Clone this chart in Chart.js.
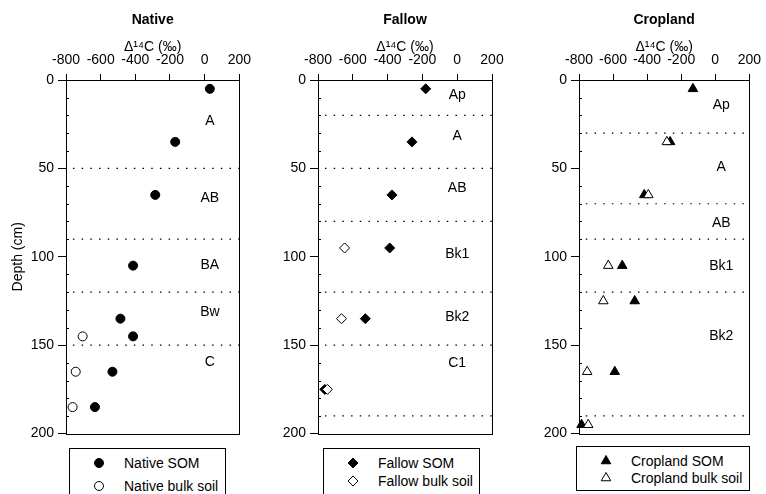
<!DOCTYPE html>
<html>
<head>
<meta charset="utf-8">
<script src="https://cdn.jsdelivr.net/npm/chart.js@4.4.1/dist/chart.umd.min.js"></script>
<style>
  body { margin: 0; width: 766px; height: 494px; overflow: hidden; background: #fff; position: relative;
         font-family: "Liberation Sans", Arial, sans-serif; font-size: 14px; color: #000; }
  canvas.panel { position: absolute; top: 0; }
  .legend { position: absolute; border: 1px solid #000; box-sizing: border-box; background: #fff; }
  .legend canvas { position: absolute; }
  .legend span { position: absolute; line-height: 16px; white-space: nowrap; }
</style>
</head>
<body>
<script>
// axis ticks
const d14cTicks = [-800, -600, -400, -200, 0, 200];
const depthTicks = [0, 50, 100, 150, 200];

// Native
const nativeSomD14C = [30, -170, -285, -413, -486, -413, -532, -633];
const nativeSomDepth = [5, 35, 65, 105, 135, 145, 165, 185];
const nativeBulkD14C = [-704, -744, -762];
const nativeBulkDepth = [145, 165, 185];
const nativeBoundaries = [50, 90, 120, 150];
const nativeHorizons = ['A', 'AB', 'BA', 'Bw', 'C'];
const nativeHorizonDepth = [23, 67, 105, 131.5, 159.5];

// Fallow
const fallowSomD14C = [-181, -260, -375, -388, -528, -761];
const fallowSomDepth = [5, 35, 65, 95, 135, 175];
const fallowBulkD14C = [-647, -665, -746];
const fallowBulkDepth = [95, 135, 175];
const fallowBoundaries = [20, 50, 80, 120, 150, 190];
const fallowHorizons = ['Ap', 'A', 'AB', 'Bk1', 'Bk2', 'C1'];
const fallowHorizonDepth = [8.5, 31.5, 61, 98.5, 134, 160];

// Cropland
const cropSomD14C = [-131, -265, -417, -546, -473, -590, -785];
const cropSomDepth = [5, 35, 65, 105, 125, 165, 195];
const cropBulkD14C = [-284, -393, -628, -657, -752, -746];
const cropBulkDepth = [35, 65, 105, 125, 165, 195];
const cropBoundaries = [30, 70, 90, 120, 190];
const cropHorizons = ['Ap', 'A', 'AB', 'Bk1', 'Bk2'];
const cropHorizonDepth = [14.5, 49.5, 81, 105.5, 145];

const FONT = '"Liberation Sans", Arial, sans-serif';
Chart.defaults.font.family = FONT;
Chart.defaults.font.size = 14;
Chart.defaults.color = '#000';

const pts = (xs, ys) => xs.map((v, i) => ({ x: v, y: ys[i] }));

const panels = [
  { title: 'Native', left: 0, width: 256, yWidth: 66, depthTitle: true, style: 'circle', radius: 4.5,
    som: pts(nativeSomD14C, nativeSomDepth), bulk: pts(nativeBulkD14C, nativeBulkDepth),
    bounds: nativeBoundaries, names: nativeHorizons, nameDepth: nativeHorizonDepth, nameX: 30,
    labels: ['Native SOM', 'Native bulk soil'],
    legend: { left: 69, top: 448, width: 157, height: 52, rows: [15, 38] } },
  { title: 'Fallow', left: 258, width: 256, yWidth: 60, depthTitle: false, style: 'rectRot', radius: 5,
    som: pts(fallowSomD14C, fallowSomDepth), bulk: pts(fallowBulkD14C, fallowBulkDepth),
    bounds: fallowBoundaries, names: fallowHorizons, nameDepth: fallowHorizonDepth, nameX: 0,
    labels: ['Fallow SOM', 'Fallow bulk soil'],
    legend: { left: 323, top: 448, width: 157, height: 52, rows: [14.5, 32.5] } },
  { title: 'Cropland', left: 519, width: 247, yWidth: 60, depthTitle: false, style: 'triangle', radius: 5.5,
    som: pts(cropSomD14C, cropSomDepth), bulk: pts(cropBulkD14C, cropBulkDepth),
    bounds: cropBoundaries, names: cropHorizons, nameDepth: cropHorizonDepth, nameX: 35,
    labels: ['Cropland SOM', 'Cropland bulk soil'],
    legend: { left: 576, top: 446, width: 174, height: 45, rows: [15, 31.5] } }
];

// box around plot + short inside minor ticks on depth axis
const frame = {
  id: 'frame',
  afterDraw(chart) {
    const { ctx, chartArea: a, scales: { y } } = chart;
    ctx.save();
    ctx.strokeStyle = '#000';
    ctx.lineWidth = 1;
    ctx.strokeRect(Math.round(a.left) + 0.5, Math.round(a.top) + 0.5,
                   Math.round(a.right - a.left), Math.round(a.bottom - a.top));
    ctx.beginPath();
    for (let v = 10; v < 200; v += 10) {
      if (v % 50 === 0) continue;
      const py = Math.round(y.getPixelForValue(v)) + 0.5;
      ctx.moveTo(a.left, py);
      ctx.lineTo(a.left + 3, py);
    }
    ctx.stroke();
    ctx.restore();
  }
};

const horizonLabels = {
  id: 'horizonLabels',
  afterDatasetsDraw(chart, args, opts) {
    const { ctx, scales: { x, y } } = chart;
    ctx.save();
    ctx.font = '14px ' + FONT;
    ctx.fillStyle = '#000';
    ctx.textAlign = 'center';
    ctx.textBaseline = 'middle';
    opts.names.forEach((n, i) => ctx.fillText(n, x.getPixelForValue(opts.x), y.getPixelForValue(opts.depths[i])));
    ctx.restore();
  }
};

panels.forEach(p => {
  const cv = document.createElement('canvas');
  cv.className = 'panel';
  cv.width = p.width;
  cv.height = 446;
  cv.style.left = p.left + 'px';
  document.body.appendChild(cv);

  const boundSets = p.bounds.map(d => ({
    data: [{ x: -760, y: d }, { x: 200, y: d }],
    showLine: true, borderColor: '#000', borderWidth: 1.2, borderDash: [1.5, 7.2],
    pointRadius: 0, order: 3
  }));

  new Chart(cv, {
    type: 'scatter',
    data: {
      datasets: [
        { label: p.labels[0], data: p.som, pointStyle: p.style, pointRadius: p.radius,
          backgroundColor: '#000', borderColor: '#000', borderWidth: 1, clip: false, order: 2 },
        { label: p.labels[1], data: p.bulk, pointStyle: p.style, pointRadius: p.radius,
          backgroundColor: '#fff', borderColor: '#000', borderWidth: 1, clip: false, order: 1 },
        ...boundSets
      ]
    },
    options: {
      responsive: false,
      animation: false,
      layout: { padding: { left: 0, right: p.width - p.yWidth - 174, top: 0, bottom: 10 } },
      scales: {
        x: {
          type: 'linear', position: 'top', min: -800, max: 200,
          afterBuildTicks: s => { s.ticks = d14cTicks.map(v => ({ value: v })); },
          afterFit: s => { s.height = 51.2; },
          ticks: { padding: 5, color: '#000', font: { size: 14 } },
          grid: { drawOnChartArea: false, drawTicks: true, tickLength: 6, color: '#000', lineWidth: 1 },
          border: { display: false },
          title: { display: true, text: 'Δ¹⁴C (‰)', color: '#000', font: { size: 14 }, padding: { top: 10, bottom: 0 } }
        },
        y: {
          type: 'linear', reverse: true, min: 0, max: 200,
          afterBuildTicks: s => { s.ticks = depthTicks.map(v => ({ value: v })); },
          afterFit: s => { s.width = p.yWidth; },
          ticks: { padding: 4, color: '#000', font: { size: 14 } },
          grid: { drawOnChartArea: false, drawTicks: true, tickLength: 8, color: '#000', lineWidth: 1 },
          border: { display: false },
          title: { display: p.depthTitle, text: 'Depth (cm)', color: '#000', font: { size: 14 }, padding: { top: 10, bottom: 0 } }
        }
      },
      plugins: {
        legend: { display: false },
        tooltip: { enabled: false },
        title: { display: true, text: p.title, fullSize: false, color: '#000',
                 font: { size: 14, weight: 'bold' }, padding: { top: 12, bottom: 0 } },
        horizonLabels: { names: p.names, depths: p.nameDepth, x: p.nameX }
      }
    },
    plugins: [frame, horizonLabels]
  });

  // legend box
  const L = p.legend;
  const box = document.createElement('div');
  box.className = 'legend';
  Object.assign(box.style, { left: L.left + 'px', top: L.top + 'px', width: L.width + 'px', height: L.height + 'px' });
  [['#000'], ['#fff']].forEach((fill, i) => {
    const m = document.createElement('canvas');
    m.width = 16; m.height = 16;
    m.style.left = (30 - 8 - 1) + 'px';
    m.style.top = (L.rows[i] - 8 - 1) + 'px';
    const c = m.getContext('2d');
    c.fillStyle = fill[0];
    c.strokeStyle = '#000';
    c.lineWidth = 1;
    Chart.helpers.drawPoint(c, { pointStyle: p.style, radius: p.radius, rotation: 0, borderWidth: 1 }, 8, 8);
    box.appendChild(m);
    const t = document.createElement('span');
    t.textContent = p.labels[i];
    t.style.left = (55 - 1) + 'px';
    t.style.top = (L.rows[i] - 8 - 1) + 'px';
    box.appendChild(t);
  });
  document.body.appendChild(box);
});
</script>
</body>
</html>
